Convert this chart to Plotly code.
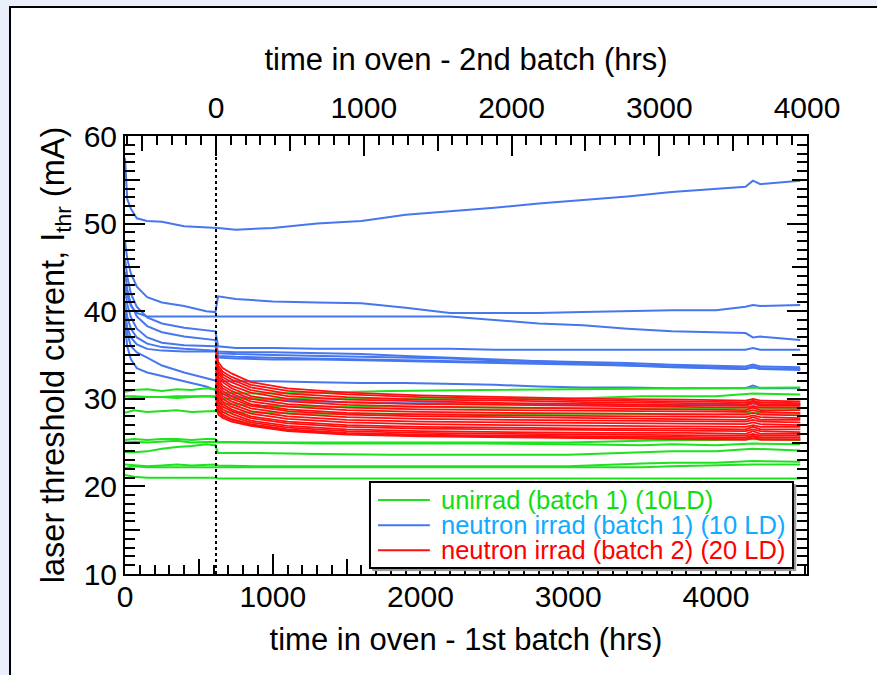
import plotly.graph_objects as go

# ---------------- data ----------------
OFFSET = 616          # 1st-batch hours at which the 2nd batch entered the oven
X_MAX = 4616          # right end of bottom axis (hrs)
Y_RANGE = [10, 60]

bottom_ticks = [0, 1000, 2000, 3000, 4000]
top_ticks = [0, 1000, 2000, 3000, 4000]
y_ticks = [10, 20, 30, 40, 50, 60]

# unirradiated, batch 1 (time = 1st-batch hours)
green_t = [0, 60, 150, 250, 350, 450, 550, 610, 630, 900, 1300, 1800, 2400, 3000, 3500, 3700, 4000, 4250, 4570]
green_vals = [
    [30.8, 31.0, 31.1, 30.9, 31.1, 31.0, 31.2, 31.1, 30.7, 30.6, 30.7, 30.9, 31.0, 31.1, 31.1, 31.2, 31.2, 31.3, 31.3],
    [30.0, 30.1, 30.2, 30.2, 30.1, 30.2, 30.3, 30.2, 30.0, 30.0, 30.0, 30.0, 30.0, 30.0, 30.3, 30.3, 30.3, 30.6, 30.5],
    [28.4, 28.7, 28.5, 28.6, 28.7, 28.5, 28.6, 28.6, 28.5, 28.4, 28.3, 28.3, 28.2, 28.3, 28.3, 28.2, 28.2, 28.4, 28.3],
    [30.3, 30.3, 30.2, 30.2, 30.3, 30.3, 30.3, 30.3, 29.5, 29.2, 29.1, 29.1, 29.0, 28.9, 28.9, 28.9, 28.9, 29.0, 28.9],
    [25.3, 25.4, 25.3, 25.4, 25.4, 25.3, 25.4, 25.4, 25.1, 25.0, 25.0, 25.0, 25.0, 25.0, 25.2, 25.3, 25.3, 25.4, 25.3],
    [25.0, 25.1, 25.0, 25.1, 25.2, 25.0, 25.1, 25.1, 25.0, 25.0, 24.9, 24.9, 24.9, 24.8, 24.7, 24.8, 24.7, 24.9, 24.8],
    [23.9, 23.9, 24.0, 24.3, 24.5, 24.6, 24.8, 24.7, 23.8, 23.8, 23.7, 23.6, 23.6, 23.6, 23.9, 24.0, 24.0, 24.3, 24.1],
    [22.5, 22.4, 22.3, 22.4, 22.5, 22.4, 22.5, 22.5, 22.4, 22.3, 22.3, 22.3, 22.3, 22.3, 22.6, 22.7, 22.7, 22.9, 22.8],
    [22.1, 22.3, 22.2, 22.2, 22.2, 22.2, 22.2, 22.2, 22.2, 22.2, 22.2, 22.2, 22.2, 22.2, 22.2, 22.3, 22.4, 22.5, 22.5],
    [21.3, 21.1, 21.0, 21.0, 21.0, 21.0, 21.0, 21.0, 20.9, 20.9, 20.9, 20.9, 20.9, 20.9, 20.9, 20.9, 20.9, 20.9, 20.9],
]

# neutron irradiated, batch 1 (time = 1st-batch hours)
blue_t = [0, 15, 40, 80, 150, 250, 400, 550, 612, 630, 750, 1000, 1300, 1600, 1900, 2200, 2500, 2800, 3100, 3400, 3700, 4000, 4200, 4250, 4300, 4570]
blue_vals = [
    [57.5, 52.8, 51.7, 50.6, 50.3, 50.2, 49.7, 49.6, 49.5, 49.5, 49.3, 49.5, 50.0, 50.3, 51.0, 51.4, 51.8, 52.3, 52.7, 53.1, 53.6, 54.0, 54.2, 54.9, 54.5, 54.9],
    [48.0, 46.0, 44.3, 42.8, 41.6, 41.0, 40.6, 40.0, 39.9, 41.7, 41.4, 41.1, 41.0, 40.9, 40.4, 39.8, 39.8, 39.8, 39.9, 40.0, 40.1, 40.1, 40.5, 40.7, 40.6, 40.7],
    [43.0, 41.8, 40.6, 39.8, 39.4, 39.4, 39.4, 39.4, 39.4, 39.4, 39.4, 39.4, 39.4, 39.4, 39.4, 39.4, 39.0, 38.6, 38.4, 38.0, 37.7, 37.6, 37.5, 37.0, 37.1, 36.7],
    [46.0, 44.0, 42.0, 40.5, 39.3, 38.6, 38.1, 37.8, 37.7, 36.0, 35.8, 35.8, 35.7, 35.7, 35.7, 35.7, 35.6, 35.6, 35.6, 35.6, 35.6, 35.6, 35.6, 35.8, 35.6, 35.6],
    [44.5, 42.5, 40.8, 39.4, 38.3, 37.6, 37.1, 36.8, 36.7, 35.2, 35.1, 35.0, 34.9, 34.8, 34.7, 34.6, 34.4, 34.3, 34.2, 34.1, 33.9, 33.8, 33.7, 33.9, 33.7, 33.6],
    [42.5, 40.8, 39.3, 38.0, 37.0, 36.4, 36.1, 36.0, 36.0, 34.9, 34.8, 34.7, 34.6, 34.5, 34.4, 34.3, 34.2, 34.1, 34.0, 33.8, 33.7, 33.5, 33.4, 33.7, 33.5, 33.4],
    [41.0, 39.4, 38.0, 37.0, 36.3, 35.9, 35.7, 35.6, 35.5, 35.4, 35.3, 35.3, 35.2, 35.1, 34.9, 34.7, 34.5, 34.3, 34.1, 33.9, 33.7, 33.6, 33.5, 33.6, 33.4, 33.3],
    [39.5, 37.5, 36.0, 35.3, 34.7, 33.8, 33.0, 32.4, 32.1, 32.0, 32.0, 32.0, 31.9, 31.8, 31.8, 31.7, 31.6, 31.4, 31.3, 31.3, 31.2, 31.2, 31.2, 31.5, 31.2, 31.2],
    [38.5, 36.0, 34.5, 33.5, 33.0, 32.6, 32.0, 31.4, 31.0, 30.7, 30.2, 29.9, 29.7, 29.6, 29.5, 29.5, 29.4, 29.4, 29.4, 29.3, 29.3, 29.3, 29.3, 29.5, 29.3, 29.3],
    [40.0, 38.2, 37.0, 36.2, 35.7, 35.5, 35.4, 35.4, 35.4, 34.7, 34.6, 34.5, 34.5, 34.4, 34.3, 34.2, 34.1, 34.0, 33.9, 33.8, 33.6, 33.5, 33.4, 33.6, 33.4, 33.4],
]

# neutron irradiated, batch 2 (time = 2nd-batch hours, top axis)
red_t = [0, 15, 45, 105, 235, 485, 885, 1385, 1985, 2585, 3185, 3585, 3635, 3685, 3955]
red_vals = [
    [35.8, 34.2, 33.5, 32.9, 31.9, 31.2, 30.7, 30.4, 30.2, 30.0, 29.9, 29.8, 30.0, 29.8, 29.7],
    [35.4, 33.8, 33.1, 32.5, 31.6, 30.9, 30.5, 30.2, 30.0, 29.8, 29.7, 29.6, 29.8, 29.6, 29.5],
    [35.1, 33.5, 32.8, 32.2, 31.3, 30.6, 30.2, 29.9, 29.8, 29.6, 29.5, 29.4, 29.7, 29.4, 29.4],
    [34.8, 33.2, 32.5, 31.9, 31.0, 30.3, 29.9, 29.7, 29.5, 29.4, 29.3, 29.2, 29.5, 29.2, 29.2],
    [34.4, 32.9, 32.2, 31.5, 30.7, 30.0, 29.6, 29.4, 29.3, 29.2, 29.1, 29.0, 29.2, 29.0, 29.0],
    [34.1, 32.5, 31.9, 31.2, 30.3, 29.7, 29.3, 29.1, 29.0, 28.9, 28.8, 28.7, 29.0, 28.7, 28.7],
    [33.8, 32.2, 31.5, 30.9, 30.0, 29.4, 29.0, 28.8, 28.7, 28.6, 28.5, 28.5, 28.7, 28.5, 28.4],
    [33.5, 31.9, 31.2, 30.6, 29.7, 29.1, 28.7, 28.5, 28.4, 28.3, 28.2, 28.2, 28.4, 28.2, 28.1],
    [33.2, 31.6, 30.9, 30.3, 29.4, 28.8, 28.4, 28.2, 28.1, 28.0, 27.9, 27.9, 28.1, 27.9, 27.8],
    [32.9, 31.2, 30.6, 30.0, 29.2, 28.6, 28.2, 28.0, 27.9, 27.8, 27.7, 27.6, 27.9, 27.6, 27.6],
    [32.6, 30.9, 30.3, 29.7, 28.9, 28.3, 27.9, 27.7, 27.6, 27.5, 27.4, 27.4, 27.6, 27.4, 27.3],
    [32.3, 30.6, 30.0, 29.4, 28.6, 28.0, 27.6, 27.4, 27.3, 27.2, 27.1, 27.1, 27.3, 27.1, 27.0],
    [32.0, 30.3, 29.7, 29.1, 28.3, 27.7, 27.3, 27.1, 27.0, 26.9, 26.8, 26.8, 27.0, 26.8, 26.8],
    [31.7, 30.0, 29.4, 28.8, 28.0, 27.4, 27.0, 26.8, 26.7, 26.6, 26.6, 26.5, 26.8, 26.5, 26.5],
    [31.3, 29.7, 29.1, 28.6, 27.8, 27.2, 26.8, 26.6, 26.5, 26.4, 26.3, 26.3, 26.5, 26.3, 26.2],
    [31.0, 29.4, 28.8, 28.3, 27.5, 26.9, 26.5, 26.3, 26.2, 26.1, 26.1, 26.0, 26.3, 26.0, 26.0],
    [30.7, 29.1, 28.5, 28.0, 27.3, 26.7, 26.3, 26.1, 26.0, 25.9, 25.8, 25.8, 26.0, 25.8, 25.8],
    [30.3, 28.8, 28.2, 27.7, 27.1, 26.5, 26.1, 25.9, 25.8, 25.7, 25.6, 25.6, 25.8, 25.6, 25.6],
    [30.0, 28.5, 28.0, 27.6, 27.0, 26.4, 26.0, 25.8, 25.7, 25.6, 25.5, 25.4, 25.7, 25.4, 25.4],
    [29.6, 28.2, 27.8, 27.4, 26.9, 26.3, 25.9, 25.7, 25.6, 25.5, 25.4, 25.3, 25.5, 25.3, 25.3],
]

legend_names = ["unirrad (batch 1) (10LD)",
                "neutron irrad (batch 1) (10 LD)",
                "neutron irrad (batch 2) (20 LD)"]

# ---------------- style ----------------
FONT = "Liberation Sans, Arial, Helvetica, sans-serif"
GREEN = "#1ee21e"
BLUE = "#4677ee"
RED = "#ff0f0f"
line_colors = [GREEN, BLUE, RED]
text_colors = ["#10dd10", "#10aaff", "#ff0000"]
TICK_FS = 30
TITLE_FS = 31

fig = go.Figure()

for i, vals in enumerate(blue_vals):
    fig.add_trace(go.Scatter(
        x=blue_t, y=vals, mode="lines", line=dict(color=BLUE, width=2),
        name=legend_names[1], legendgroup="blue", showlegend=False, hoverinfo="skip"))

for i, vals in enumerate(red_vals):
    fig.add_trace(go.Scatter(
        x=red_t, y=vals, xaxis="x2", mode="lines", line=dict(color=RED, width=1.8),
        name=legend_names[2], legendgroup="red", showlegend=False, hoverinfo="skip"))

for i, vals in enumerate(green_vals):
    fig.add_trace(go.Scatter(
        x=green_t, y=vals, mode="lines", line=dict(color=GREEN, width=2),
        name=legend_names[0], legendgroup="green", showlegend=False, hoverinfo="skip"))

# start of 2nd batch (top-axis zero)
fig.add_trace(go.Scatter(x=[0, 0], y=Y_RANGE, xaxis="x2", mode="lines",
                         line=dict(color="black", width=2, dash="dot"),
                         showlegend=False, hoverinfo="skip"))

# dummy traces so overlay axes get drawn
for xa, ya in [("x3", "y"), ("x4", "y"), ("x", "y2"), ("x", "y3"), ("x", "y4")]:
    fig.add_trace(go.Scatter(x=[None], y=[None], xaxis=xa, yaxis=ya, mode="lines",
                             showlegend=False, hoverinfo="skip"))

tickfont = dict(family=FONT, size=TICK_FS, color="black")
common = dict(ticks="inside", tickwidth=2, tickcolor="black", showgrid=False,
              zeroline=False, tickfont=tickfont)
minor_x = dict(ticks="inside", ticklen=9, tickwidth=2, tickcolor="black", dtick=100, tick0=0, showgrid=False)
minor_y = dict(ticks="inside", ticklen=10, tickwidth=2, tickcolor="black", dtick=1, tick0=0, showgrid=False)

top_range = [-OFFSET, X_MAX - OFFSET]

# ---------------- legend box (drawn as shapes + text) ----------------
LX0, LX1, LY0, LY1 = 0.3592, 0.9795, 0.0137, 0.210
row_y = [0.169, 0.1115, 0.0545]
shapes = [
    dict(type="rect", xref="paper", yref="paper", x0=-0.1686, x1=1.2, y0=-0.3, y1=1.2945,
         fillcolor="white", line=dict(color="black", width=2), layer="below"),
    dict(type="rect", xref="paper", yref="paper", x0=LX0 + 0.004, x1=LX1 + 0.004,
         y0=LY0 - 0.006, y1=LY1 - 0.006, fillcolor="#9a9a9a", line=dict(color="#9a9a9a", width=1),
         layer="above"),
    dict(type="rect", xref="paper", yref="paper", x0=LX0, x1=LX1, y0=LY0, y1=LY1,
         fillcolor="white", line=dict(color="black", width=2), layer="above"),
]
annotations = []
for k in range(3):
    shapes.append(dict(type="line", xref="paper", yref="paper", x0=0.371, x1=0.447,
                       y0=row_y[k], y1=row_y[k], line=dict(color=line_colors[k], width=2),
                       layer="above"))
    annotations.append(dict(xref="paper", yref="paper", x=0.460, y=row_y[k],
                            xanchor="left", yanchor="middle", showarrow=False,
                            text=legend_names[k],
                            font=dict(family=FONT, size=25.5, color=text_colors[k])))

fig.update_layout(
    width=877, height=675,
    margin=dict(l=125, r=70, t=136, b=101),
    paper_bgcolor="#eaf0fb", plot_bgcolor="white",
    font=dict(family=FONT, color="black"),
    xaxis=dict(range=[0, X_MAX], tickvals=bottom_ticks, ticklen=20, showline=True, linewidth=2,
               linecolor="black", minor=minor_x, ticklabelstandoff=-5,
               title=dict(text="time in oven - 1st batch (hrs)", font=dict(family=FONT, size=TITLE_FS), standoff=16),
               **common),
    xaxis2=dict(range=top_range, tickvals=top_ticks, ticklen=20, overlaying="x", side="top",
                anchor="y", showline=True, linewidth=2, linecolor="black", minor=minor_x,
                ticklabelstandoff=4,
                title=dict(text="time in oven - 2nd batch (hrs)", font=dict(family=FONT, size=TITLE_FS), standoff=11),
                **common),
    xaxis3=dict(range=[0, X_MAX], tickvals=[500, 1500, 2500, 3500, 4500], ticklen=15,
                overlaying="x", side="bottom", anchor="y", showticklabels=False, showline=False, **common),
    xaxis4=dict(range=top_range, tickvals=[-500, 500, 1500, 2500, 3500], ticklen=15,
                overlaying="x", side="top", anchor="y", showticklabels=False, showline=False, **common),
    yaxis=dict(range=Y_RANGE, tickvals=y_ticks, ticklen=20, showline=True, linewidth=2,
               linecolor="black", minor=minor_y,
               title=dict(text="laser threshold current, I<sub>thr</sub> (mA)",
                          font=dict(family=FONT, size=32.5), standoff=9),
               **common),
    yaxis2=dict(range=Y_RANGE, tickvals=y_ticks, ticklen=20, overlaying="y", side="right",
                anchor="x", showline=True, linewidth=2, linecolor="black", minor=minor_y,
                showticklabels=False, **common),
    yaxis3=dict(range=Y_RANGE, tickvals=[15, 25, 35, 45, 55], ticklen=15, overlaying="y",
                side="left", anchor="x", showticklabels=False, showline=False, **common),
    yaxis4=dict(range=Y_RANGE, tickvals=[15, 25, 35, 45, 55], ticklen=15, overlaying="y",
                side="right", anchor="x", showticklabels=False, showline=False, **common),
    shapes=shapes,
    annotations=annotations,
    showlegend=False,
)

fig.write_html("out.html")
